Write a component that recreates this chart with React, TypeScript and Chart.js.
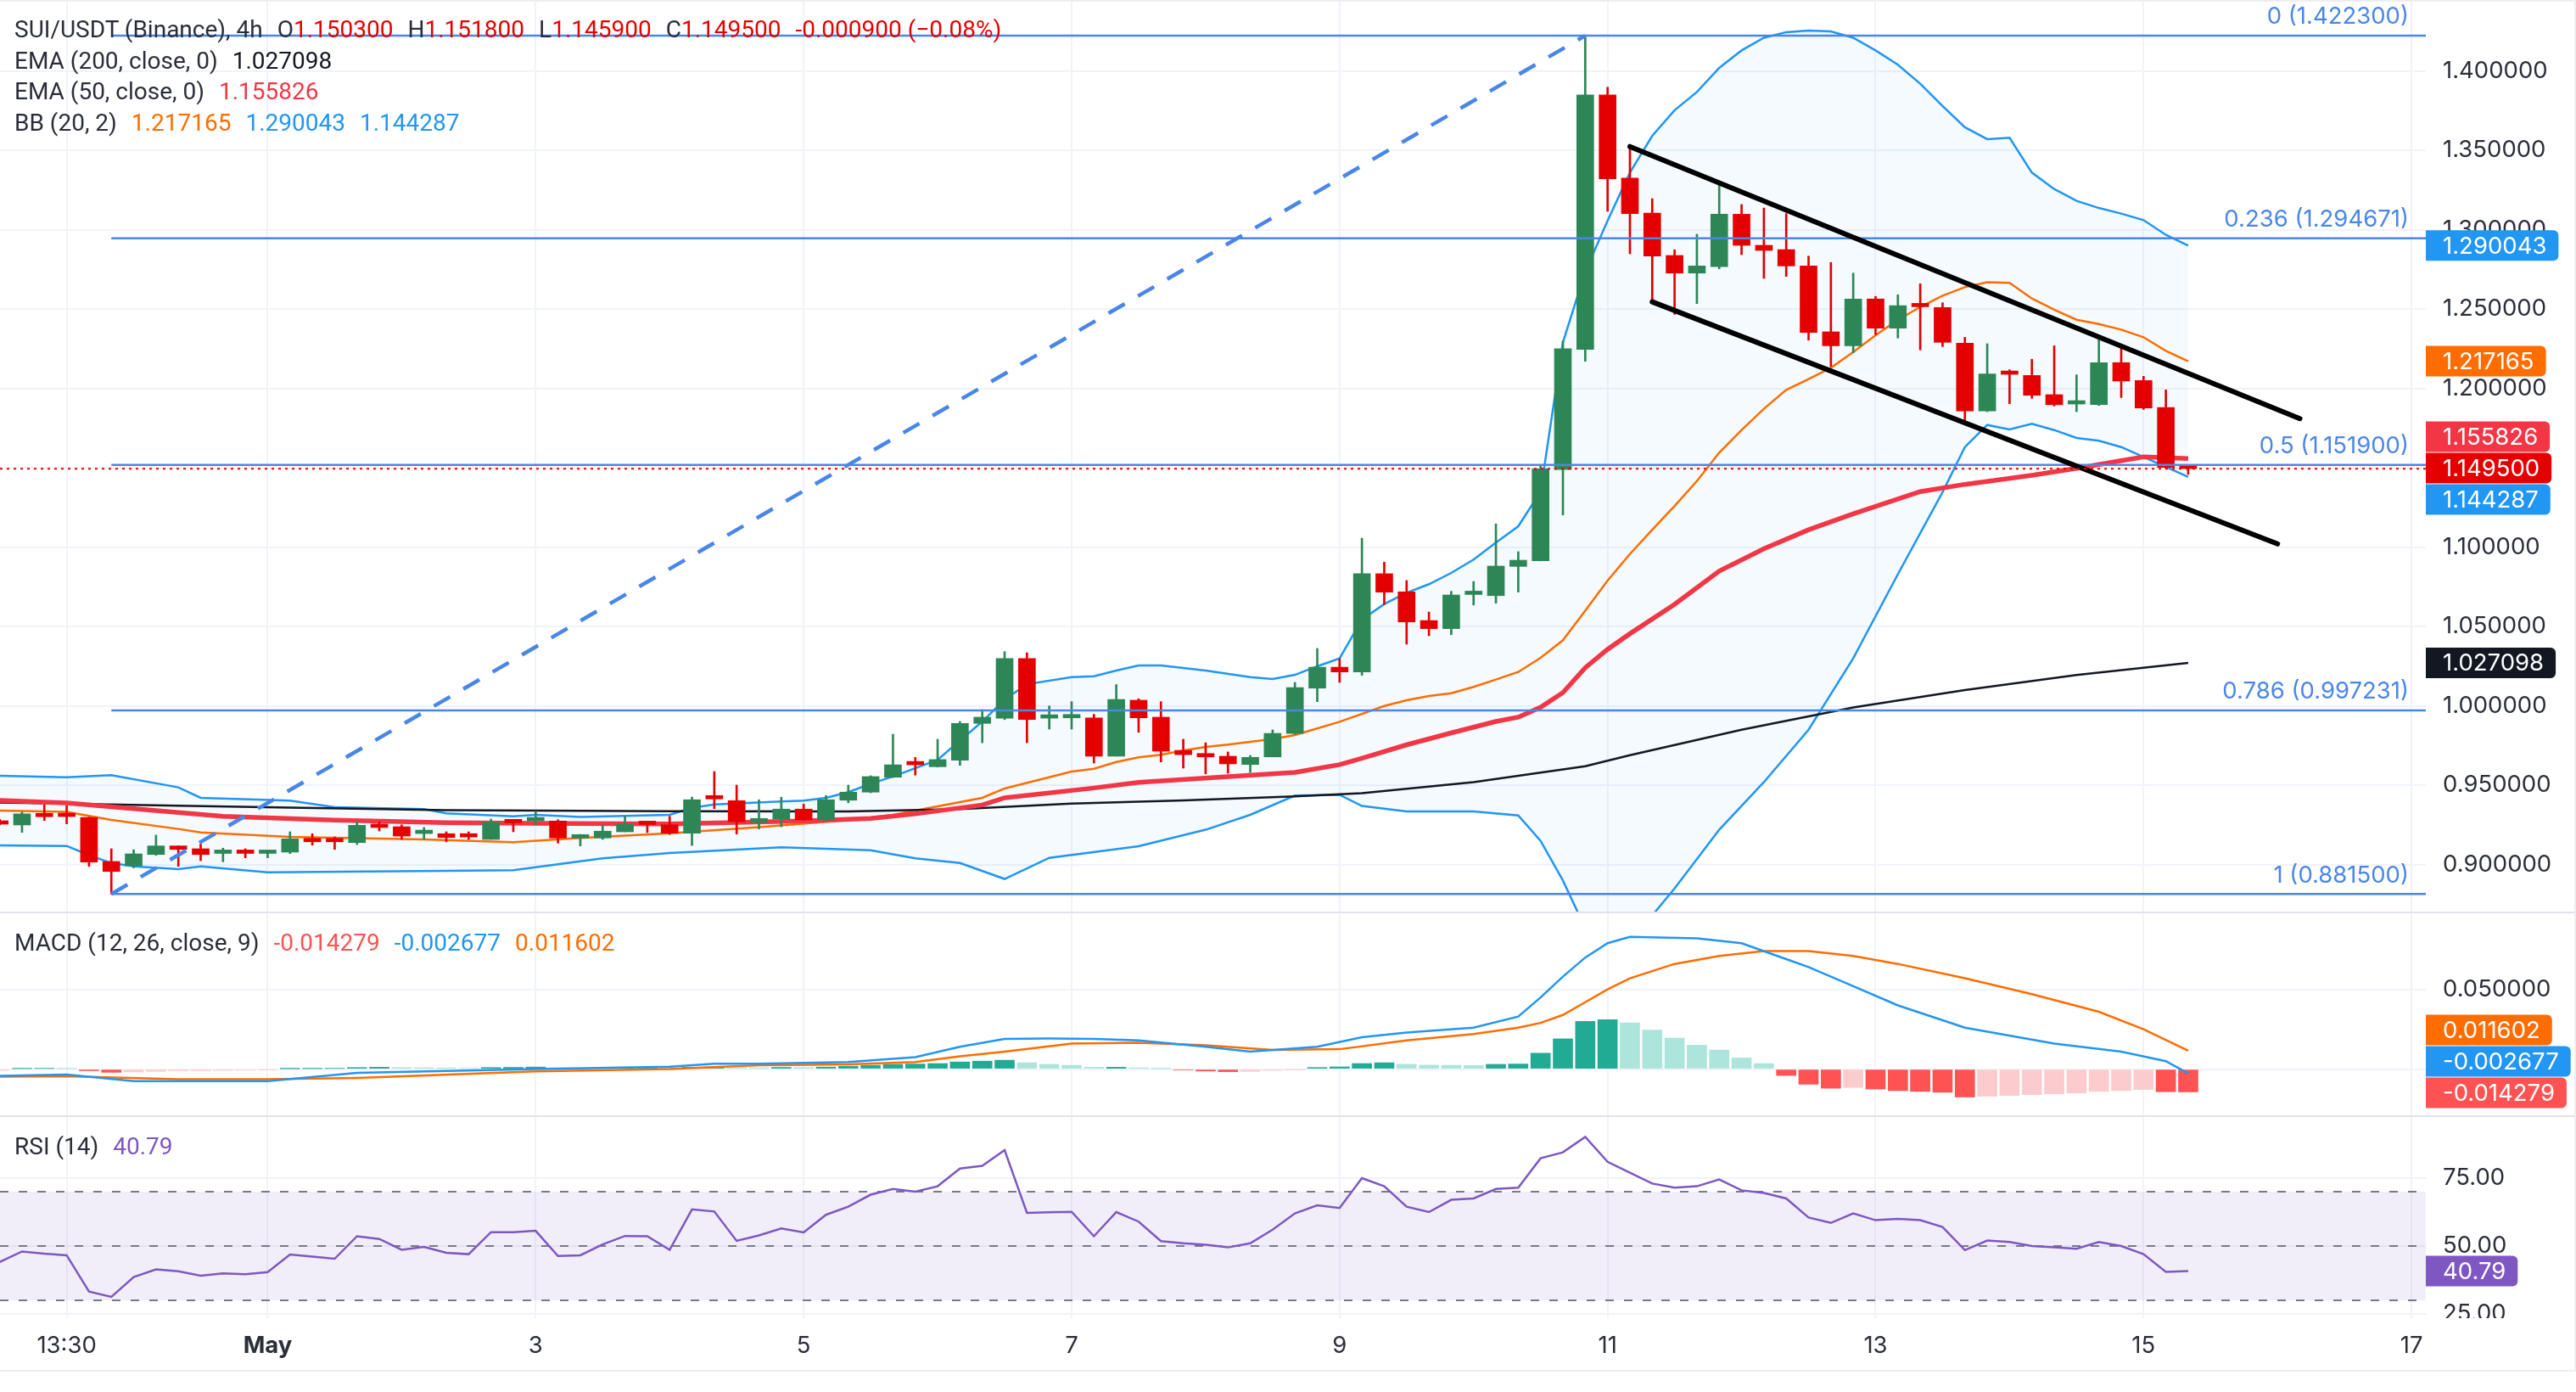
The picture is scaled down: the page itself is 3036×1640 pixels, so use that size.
import React, { useEffect, useRef } from "react";
import { Chart, registerables } from "chart.js";

Chart.register(...registerables);

// ---------------- data ----------------
const FIRST_BAR = -3; // index of first candle (bar 0 = "13:30")

const opens = [
  0.9270, 0.9250, 0.9320, 0.9307, 0.9298, 0.9020, 0.8993, 0.9064, 0.9118, 0.9100,
  0.9071, 0.9075, 0.9071, 0.9079, 0.9166, 0.9153, 0.9139, 0.9251, 0.9239, 0.9196,
  0.9195, 0.9178, 0.9159, 0.9268, 0.9276, 0.9275, 0.9168, 0.9168, 0.9207, 0.9257,
  0.9251, 0.9198, 0.9418, 0.9403, 0.9266, 0.9287, 0.9350, 0.9282, 0.9406, 0.9457,
  0.9551, 0.9633, 0.9617, 0.9658, 0.9890, 0.9923, 1.0299, 0.9923, 0.9925, 0.9925,
  0.9684, 1.0036, 0.9929, 0.9720, 0.9699, 0.9683, 0.9631, 0.9679, 0.9827, 1.0112,
  1.0244, 1.0214, 1.0833, 1.0719, 1.0538, 1.0487, 1.0702, 1.0695, 1.0879, 1.0914,
  1.1489, 1.2246, 1.3850, 1.3325, 1.3105, 1.2838, 1.2727, 1.2768, 1.3098, 1.2902,
  1.2875, 1.2772, 1.2357, 1.2269, 1.2564, 1.2380, 1.2522, 1.2510, 1.2286, 1.1858,
  1.2093, 1.2082, 1.1961, 1.1902, 1.1898, 1.2163, 1.2050, 1.1881, 1.1503,
];
const highs = [
  0.9285, 0.9332, 0.9376, 0.9371, 0.9300, 0.9100, 0.9094, 0.9186, 0.9118, 0.9130,
  0.9104, 0.9100, 0.9086, 0.9207, 0.9195, 0.9175, 0.9275, 0.9270, 0.9251, 0.9234,
  0.9207, 0.9207, 0.9287, 0.9282, 0.9337, 0.9283, 0.9190, 0.9248, 0.9305, 0.9270,
  0.9305, 0.9426, 0.9587, 0.9501, 0.9409, 0.9425, 0.9382, 0.9435, 0.9501, 0.9560,
  0.9822, 0.9676, 0.9790, 0.9902, 0.9977, 1.0342, 1.0335, 1.0000, 1.0027, 0.9947,
  1.0134, 1.0045, 1.0027, 0.9790, 0.9768, 0.9710, 0.9688, 0.9849, 1.0148, 1.0362,
  1.0298, 1.1057, 1.0906, 1.0790, 1.0592, 1.0722, 1.0784, 1.1147, 1.0972, 1.1512,
  1.2300, 1.4223, 1.3898, 1.3521, 1.3196, 1.2874, 1.2972, 1.3285, 1.3159, 1.3137,
  1.3102, 1.2834, 1.2794, 1.2727, 1.2580, 1.2590, 1.2660, 1.2540, 1.2323, 1.2282,
  1.2118, 1.2184, 1.2269, 1.2086, 1.2309, 1.2255, 1.2077, 1.1991, 1.1518,
];
const lows = [
  0.9250, 0.9203, 0.9278, 0.9257, 0.8989, 0.8815, 0.8980, 0.9059, 0.8989, 0.9025,
  0.9018, 0.9043, 0.9043, 0.9070, 0.9123, 0.9096, 0.9127, 0.9212, 0.9159, 0.9159,
  0.9144, 0.9159, 0.9159, 0.9207, 0.9251, 0.9136, 0.9118, 0.9159, 0.9207, 0.9202,
  0.9190, 0.9121, 0.9353, 0.9193, 0.9225, 0.9239, 0.9278, 0.9275, 0.9390, 0.9453,
  0.9549, 0.9564, 0.9615, 0.9626, 0.9768, 0.9914, 0.9768, 0.9854, 0.9854, 0.9640,
  0.9684, 0.9834, 0.9647, 0.9608, 0.9572, 0.9576, 0.9581, 0.9679, 0.9822, 1.0027,
  1.0148, 1.0193, 1.0638, 1.0389, 1.0442, 1.0449, 1.0636, 1.0647, 1.0717, 1.0914,
  1.1203, 1.2171, 1.3116, 1.2849, 1.2545, 1.2467, 1.2535, 1.2754, 1.2843, 1.2694,
  1.2706, 1.2305, 1.2139, 1.2225, 1.2339, 1.2318, 1.2243, 1.2264, 1.1778, 1.1854,
  1.1904, 1.1938, 1.1890, 1.1854, 1.1893, 1.1943, 1.1868, 1.1497, 1.1459,
];
const closes = [
  0.9255, 0.9320, 0.9302, 0.9303, 0.9016, 0.8957, 0.9068, 0.9118, 0.9096, 0.9064,
  0.9076, 0.9071, 0.9075, 0.9163, 0.9144, 0.9144, 0.9248, 0.9234, 0.9180, 0.9200,
  0.9171, 0.9174, 0.9266, 0.9264, 0.9280, 0.9168, 0.9172, 0.9211, 0.9255, 0.9253,
  0.9198, 0.9409, 0.9414, 0.9270, 0.9291, 0.9350, 0.9282, 0.9409, 0.9457, 0.9555,
  0.9629, 0.9629, 0.9662, 0.9890, 0.9929, 1.0299, 0.9914, 0.9927, 0.9929, 0.9684,
  1.0041, 0.9925, 0.9715, 0.9693, 0.9679, 0.9635, 0.9676, 0.9827, 1.0116, 1.0244,
  1.0214, 1.0833, 1.0717, 1.0529, 1.0487, 1.0699, 1.0706, 1.0881, 1.0918, 1.1494,
  1.2250, 1.3850, 1.3321, 1.3102, 1.2834, 1.2727, 1.2772, 1.3098, 1.2902, 1.2870,
  1.2772, 1.2353, 1.2269, 1.2564, 1.2380, 1.2522, 1.2515, 1.2291, 1.1858, 1.2091,
  1.2089, 1.1957, 1.1898, 1.1906, 1.2163, 1.2047, 1.1877, 1.1503, 1.1495,
];

// indicator lines: [bar index, value]
const ema200Pts: [number, number][] = [
  [-3, 0.9392], [5, 0.9371], [10, 0.936], [17, 0.9344], [27, 0.9337], [35, 0.9335], [40, 0.935],
  [45, 0.9385], [50, 0.9405], [55, 0.943], [58, 0.945], [63, 0.952], [66, 0.958], [68, 0.962],
  [70, 0.969], [75, 0.985], [80, 0.999], [85, 1.01], [90, 1.0195], [95, 1.027098],
];
const ema50Pts: [number, number][] = [
  [-3, 0.9405], [0, 0.9389], [7, 0.9305], [12, 0.928], [17, 0.9264], [21, 0.926], [27, 0.9257],
  [33, 0.9275], [36, 0.9291], [38, 0.932], [41, 0.9376], [42, 0.9421], [46, 0.9483], [48, 0.9519],
  [55, 0.9581], [57, 0.963], [58, 0.967], [60, 0.9755], [62, 0.983], [64, 0.9902], [65, 0.9929],
  [66, 0.9991], [67, 1.0084], [68, 1.0241], [69, 1.0357], [70, 1.0455], [72, 1.064], [74, 1.085],
  [76, 1.099], [78, 1.111], [80, 1.121], [83, 1.135], [85, 1.1396], [88, 1.1453], [90, 1.1497],
  [93, 1.1569], [95, 1.155826],
];
const bbUpperPts: [number, number][] = [
  [-3, 0.956], [0, 0.9551], [2, 0.9564], [5, 0.9487], [6, 0.9421], [10, 0.9403], [12, 0.9362],
  [16, 0.935], [17, 0.9323], [20, 0.9305], [21, 0.9314], [23, 0.93], [27, 0.9314], [28, 0.9358],
  [29, 0.938], [32, 0.9398], [33, 0.9403], [34, 0.9421], [35, 0.9457], [36, 0.951], [37, 0.9555],
  [39, 0.9661], [41, 0.9902], [42, 1.004], [43, 1.0137], [45, 1.0182], [46, 1.0187], [47, 1.0223],
  [48, 1.0255], [49, 1.0255], [51, 1.0223], [53, 1.0182], [54, 1.017], [55, 1.0196], [56, 1.025],
  [57, 1.03], [58, 1.0544], [59, 1.0642], [60, 1.0713], [61, 1.0767], [62, 1.0838], [63, 1.0922],
  [64, 1.1029], [65, 1.1132], [66, 1.135], [67, 1.2291], [68, 1.2736], [69, 1.3057], [70, 1.336],
  [71, 1.3592], [72, 1.3753], [73, 1.3868], [74, 1.402], [75, 1.413], [76, 1.421], [77, 1.4245],
  [78, 1.4255], [79, 1.425], [80, 1.421], [81, 1.413], [82, 1.404], [83, 1.392], [84, 1.378],
  [85, 1.3646], [86, 1.3571], [87, 1.358], [88, 1.336], [89, 1.3257], [90, 1.3182], [91, 1.3137],
  [92, 1.3102], [93, 1.3061], [94, 1.2968], [95, 1.290043],
];
const bbMidPts: [number, number][] = [
  [-3, 0.9341], [0, 0.9332], [2, 0.9282], [5, 0.9225], [6, 0.9203], [10, 0.9175], [16, 0.9159],
  [20, 0.9141], [23, 0.9168], [27, 0.9198], [31, 0.9237], [35, 0.928], [37, 0.9314], [41, 0.9421],
  [42, 0.948], [45, 0.9587], [46, 0.9604], [47, 0.9647], [48, 0.9676], [49, 0.9692], [50, 0.9719],
  [51, 0.9742], [52, 0.9756], [53, 0.9774], [54, 0.9791], [55, 0.9817], [57, 0.99], [59, 1.0],
  [60, 1.0036], [61, 1.0063], [62, 1.008], [63, 1.012], [64, 1.0166], [65, 1.0214], [66, 1.0303],
  [67, 1.0414], [68, 1.06], [69, 1.079], [70, 1.0957], [71, 1.111], [72, 1.126], [73, 1.1417],
  [74, 1.1596], [75, 1.1738], [76, 1.1872], [77, 1.1991], [78, 1.2059], [79, 1.213], [80, 1.223],
  [81, 1.2335], [82, 1.2433], [83, 1.2513], [84, 1.2585], [85, 1.2638], [86, 1.267], [87, 1.2665],
  [88, 1.2567], [89, 1.2496], [90, 1.2433], [91, 1.2406], [92, 1.2371], [93, 1.2323], [94, 1.2237],
  [95, 1.217165],
];
const bbLowerPts: [number, number][] = [
  [-3, 0.9121], [0, 0.9118], [1, 0.906], [2, 0.901], [3, 0.8989], [5, 0.8972], [6, 0.8989],
  [9, 0.8952], [17, 0.8961], [20, 0.8965], [24, 0.904], [27, 0.9073], [32, 0.9109], [36, 0.9091],
  [38, 0.904], [40, 0.901], [42, 0.891], [44, 0.9043], [48, 0.9116], [51, 0.922], [53, 0.9314],
  [55, 0.9435], [57, 0.944], [58, 0.937], [60, 0.9335], [63, 0.9335], [65, 0.931], [66, 0.915],
  [67, 0.89], [68, 0.86], [69, 0.852], [70, 0.855], [71, 0.868], [72, 0.885], [74, 0.922],
  [76, 0.952], [78, 0.985], [80, 1.03], [82, 1.083], [84, 1.1347], [85, 1.1631], [86, 1.177],
  [87, 1.1742], [88, 1.1778], [89, 1.1738], [90, 1.1688], [91, 1.1671], [92, 1.1631], [93, 1.1569],
  [94, 1.1506], [95, 1.144287],
];

const fibLevels = ["0", "0.236", "0.5", "0.786", "1"];
const fibPrices = [1.4223, 1.294671, 1.1519, 0.997231, 0.8815];
const fibStartBar = 2;
const trendLine: [number, number][] = [[2, 0.8815], [68, 1.4223]];
const channelUpper: [number, number][] = [[70, 1.3524], [100, 1.181]];
const channelLower: [number, number][] = [[71, 1.2546], [99, 1.1021]];

const macdHist = [
  -0.0008, 0.0003, 0.0004, 0.0003, -0.001, -0.002, -0.0018, -0.0014, -0.001, -0.001,
  -0.0008, -0.0007, -0.0004, 0.0002, 0.0003, 0.0004, 0.001, 0.0012, 0.001, 0.0009,
  0.0008, 0.0006, 0.001, 0.0011, 0.0013, 0.0008, 0.0006, 0.0005, 0.0006, 0.0007,
  0.0006, 0.0012, 0.0014, 0.001, 0.0009, 0.0011, 0.001, 0.0013, 0.0018, 0.0024,
  0.003, 0.0032, 0.0035, 0.0045, 0.005, 0.0056, 0.004, 0.003, 0.0024, 0.0012,
  0.0012, 0.0008, 0.0002, -0.0006, -0.0012, -0.0016, -0.0014, -0.0008, -0.0003, 0.001,
  0.0014, 0.0035, 0.004, 0.003, 0.0025, 0.0024, 0.0023, 0.003, 0.0032, 0.01,
  0.019, 0.03, 0.031, 0.029, 0.0245, 0.0195, 0.015, 0.012, 0.007, 0.0035,
  -0.004, -0.0095, -0.012, -0.0115, -0.0125, -0.0135, -0.014, -0.0145, -0.0175, -0.017,
  -0.0165, -0.016, -0.0155, -0.015, -0.014, -0.0135, -0.0128, -0.0142, -0.014279,
];
const macdPts: [number, number][] = [
  [-3, -0.0042], [0, -0.0034], [3, -0.0075], [9, -0.0075], [13, -0.0023], [17, -0.0012], [21, 0],
  [27, 0.0015], [29, 0.0034], [31, 0.0034], [35, 0.0045], [38, 0.0075], [40, 0.014], [42, 0.019],
  [44, 0.0192], [46, 0.019], [48, 0.018], [51, 0.014], [53, 0.011], [56, 0.014], [58, 0.02],
  [60, 0.023], [63, 0.026], [65, 0.033], [66, 0.045], [67, 0.058], [68, 0.07], [69, 0.079],
  [70, 0.083], [73, 0.082], [75, 0.079], [77, 0.069], [78, 0.064], [80, 0.052], [82, 0.04],
  [85, 0.026], [89, 0.016], [92, 0.011], [94, 0.005], [95, -0.002677],
];
const signalPts: [number, number][] = [
  [-3, -0.0047], [0, -0.0045], [5, -0.0064], [9, -0.0064], [13, -0.0055], [21, -0.0014], [27, 0],
  [31, 0.0024], [35, 0.003], [38, 0.0045], [40, 0.008], [42, 0.011], [45, 0.016], [48, 0.0165],
  [51, 0.015], [54, 0.012], [57, 0.0125], [60, 0.018], [63, 0.022], [65, 0.026], [66, 0.029],
  [67, 0.034], [68, 0.042], [69, 0.05], [70, 0.057], [72, 0.066], [74, 0.071], [76, 0.074],
  [78, 0.074], [80, 0.071], [82, 0.066], [85, 0.057], [88, 0.047], [91, 0.036], [93, 0.025],
  [95, 0.011602],
];

const rsiValues = [
  44.1, 48.0, 47.2, 46.6, 33.2, 31.3, 38.6, 41.4, 40.7, 39.1,
  39.9, 39.6, 40.4, 46.9, 46.1, 45.3, 53.6, 52.6, 48.6, 49.7,
  47.5, 47.0, 55.1, 55.1, 55.6, 46.3, 46.6, 50.6, 53.7, 53.6,
  48.6, 63.5, 62.7, 51.9, 53.9, 56.5, 55.0, 61.5, 64.5, 68.9,
  71.0, 70.0, 72.0, 78.5, 79.5, 85.3, 62.2, 62.4, 62.6, 53.6,
  62.5, 59.0, 51.8, 51.0, 50.5, 49.5, 51.0, 56.0, 62.0, 65.0,
  64.0, 75.0, 72.0, 64.5, 62.5, 67.0, 67.5, 71.0, 71.5, 82.3,
  84.5, 90.2, 81.0, 77.0, 73.0, 71.5, 72.0, 74.5, 70.5, 69.5,
  67.5, 60.5, 58.5, 62.0, 59.5, 60.0, 59.5, 57.0, 48.5, 52.0,
  51.5, 50.0, 49.5, 49.0, 51.5, 50.0, 47.0, 40.5, 40.79,
];

const xTickBars = [0, 9, 21, 33, 45, 57, 69, 81, 93, 105];
const xTickLabels = ["13:30", "May", "3", "5", "7", "9", "11", "13", "15", "17"];
const priceTicks = [0.9, 0.95, 1.0, 1.05, 1.1, 1.15, 1.2, 1.25, 1.3, 1.35, 1.4];
const macdTicks = [0, 0.05];
const rsiTicks = [25, 50, 75];
const rsiBands = [70, 50, 30];

const lastEma200 = 1.027098;
const lastEma50 = 1.155826;
const lastBB = [1.217165, 1.290043, 1.144287];
const lastMacd = [-0.014279, -0.002677, 0.011602];
const lastRsi = 40.79;

// ---------------- layout / style ----------------
const W = 3036;
const AXIS_W = 177;
const X_MIN = -2.986;
const X_MAX = 105.64;
const MAIN_H = 1074;
const MACD_TOP = 1076;
const MACD_H = 238;
const RSI_TOP = 1316;
const RSI_H = 298;

const FONT_AXIS = "Inter, Roboto, sans-serif";
const FONT_LEGEND = "Roboto, sans-serif";
const AXIS_SIZE = 27.5;
const TEXT = "#2a2e39";
const GRID = "#f0f3fa";
const GREEN = "#2d8656";
const RED = "#e50000";
const FIB = "#4a86e8";
const BLUE = "#2196f3";
const ORANGE = "#ff6d00";
const EMA50C = "#f23645";
const BLACK = "#131722";
const PURPLE = "#7e57c2";

const barX = opens.map((_, k) => FIRST_BAR + k);

type Tag = { value: number; text: string; color: string };

function tagPlugin(tags: Tag[], bottomPad: number) {
  const h = 37;
  return {
    id: "tags",
    afterDraw(chart: any) {
      const { ctx, chartArea } = chart;
      const ys = chart.scales.y;
      ctx.save();
      ctx.font = `${AXIS_SIZE}px ${FONT_AXIS}`;
      const items = tags
        .map((t) => ({ ...t, py: ys.getPixelForValue(t.value) }))
        .sort((a, b) => a.py - b.py);
      const groups: { items: typeof items; center: number }[] = items.map((it) => ({ items: [it], center: it.py }));
      let changed = true;
      while (changed) {
        changed = false;
        for (let k = 0; k < groups.length - 1; k++) {
          const a = groups[k];
          const b = groups[k + 1];
          if (a.center + (a.items.length * h) / 2 > b.center - (b.items.length * h) / 2) {
            const its = [...a.items, ...b.items];
            const center = its.reduce((s, v) => s + v.py, 0) / its.length;
            groups.splice(k, 2, { items: its, center });
            changed = true;
            break;
          }
        }
      }
      for (const g of groups) {
        let top = g.center - (g.items.length * h) / 2;
        const bottom = top + g.items.length * h;
        const limit = chartArea.bottom - bottomPad;
        if (bottom > limit) top -= bottom - limit;
        if (top < chartArea.top) top = chartArea.top;
        g.items.forEach((it, k) => {
          const y0 = top + k * h;
          const x0 = chartArea.right;
          const tw = ctx.measureText(it.text).width;
          ctx.fillStyle = it.color;
          ctx.beginPath();
          ctx.roundRect(x0, y0 + 0.5, 20 + tw + 14, h - 1, [0, 6, 6, 0]);
          ctx.fill();
          ctx.fillStyle = "#ffffff";
          ctx.textAlign = "left";
          ctx.textBaseline = "middle";
          ctx.fillText(it.text, x0 + 20, y0 + h / 2 + 1);
        });
      }
      ctx.restore();
    },
  };
}

const fibLabelPlugin = {
  id: "fibLabels",
  afterDatasetsDraw(chart: any) {
    const { ctx, chartArea } = chart;
    const ys = chart.scales.y;
    ctx.save();
    ctx.font = `${AXIS_SIZE}px ${FONT_AXIS}`;
    ctx.fillStyle = FIB;
    ctx.textAlign = "right";
    ctx.textBaseline = "middle";
    fibPrices.forEach((p, k) => {
      ctx.fillText(`${fibLevels[k]} (${p.toFixed(6)})`, chartArea.right - 20, ys.getPixelForValue(p) - 22);
    });
    ctx.restore();
  },
};

// hides the part of the price-scale labels that falls below the pane (as in the reference)
const clipAxisPlugin = {
  id: "clipAxis",
  afterDraw(chart: any) {
    const { ctx, chartArea, width, height } = chart;
    ctx.save();
    ctx.fillStyle = "#ffffff";
    ctx.fillRect(chartArea.right, chartArea.bottom, width - chartArea.right - 2, height - chartArea.bottom);
    ctx.restore();
  },
};

function zeroPad(s: any) {
  s.paddingLeft = 0;
  s.paddingRight = 0;
  s.paddingTop = 0;
  s.paddingBottom = 0;
}

function xScale(showTicks: boolean) {
  return {
    type: "linear",
    min: X_MIN,
    max: X_MAX,
    offset: false,
    grid: { color: GRID, lineWidth: 2, drawTicks: false, offset: false },
    border: { display: false },
    afterBuildTicks: (s: any) => {
      s.ticks = xTickBars.map((v) => ({ value: v }));
    },
    ticks: showTicks
      ? {
          display: true,
          autoSkip: false,
          maxRotation: 0,
          padding: 16,
          color: TEXT,
          font: (c: any) => ({
            family: FONT_AXIS,
            size: AXIS_SIZE,
            weight: c.tick && c.tick.value === 9 ? "bold" : "normal",
          }),
          callback: (v: any) => {
            const k = xTickBars.indexOf(Number(v));
            return k >= 0 ? xTickLabels[k] : "";
          },
        }
      : { display: false },
    afterFit: (s: any) => {
      s.height = showTicks ? RSI_H - 237 : 0;
      zeroPad(s);
    },
  };
}

function yScale(min: number, max: number, ticks: number[], digits: number) {
  return {
    type: "linear",
    position: "right",
    min,
    max,
    grid: { color: GRID, lineWidth: 2, drawTicks: false },
    border: { display: false },
    afterBuildTicks: (s: any) => {
      s.ticks = ticks.map((v) => ({ value: v }));
    },
    ticks: {
      padding: 20,
      color: TEXT,
      font: { family: FONT_AXIS, size: AXIS_SIZE },
      crossAlign: "near",
      callback: (v: any) => Number(v).toFixed(digits),
    },
    afterFit: (s: any) => {
      s.width = AXIS_W;
      zeroPad(s);
    },
  };
}

function line(pts: [number, number][], color: string, width: number, order: number, extra: any = {}) {
  return {
    type: "line",
    data: pts.map(([x, y]) => ({ x, y })),
    borderColor: color,
    borderWidth: width,
    pointRadius: 0,
    tension: 0,
    fill: false,
    order,
    ...extra,
  };
}

const baseOptions = {
  responsive: false,
  animation: false,
  events: [],
  devicePixelRatio: 1,
  layout: { padding: 0 },
  plugins: { legend: { display: false }, tooltip: { enabled: false } },
};

function mainConfig(): any {
  const candleColors = opens.map((o, k) => (closes[k] >= o ? GREEN : RED));
  const last = closes[closes.length - 1];
  const datasets: any[] = [
    line(bbUpperPts, BLUE, 2.5, 20, { fill: { target: 2 }, backgroundColor: "rgba(33,150,243,0.05)" }),
    line(bbMidPts, ORANGE, 2.5, 19),
    line(bbLowerPts, BLUE, 2.5, 20),
    line(ema200Pts, BLACK, 2.5, 18),
    line(ema50Pts, EMA50C, 5.5, 17),
    {
      type: "bar",
      data: barX.map((x, k) => ({ x, y: [lows[k], highs[k]] })),
      backgroundColor: candleColors,
      barThickness: 2,
      grouped: false,
      order: 6,
    },
    {
      type: "bar",
      data: barX.map((x, k) => ({ x, y: [opens[k], closes[k]] })),
      backgroundColor: candleColors,
      barThickness: 20,
      minBarLength: 4,
      grouped: false,
      order: 5,
    },
    ...fibPrices.map((p) => line([[fibStartBar, p], [X_MAX, p]], FIB, 2.5, 4)),
    line(trendLine, FIB, 4.5, 3, { borderDash: [22, 18] }),
    line(channelUpper, "#000000", 6, 2, { borderCapStyle: "round" }),
    line(channelLower, "#000000", 6, 2, { borderCapStyle: "round" }),
    line([[X_MIN, last], [X_MAX, last]], RED, 2, 1, { borderDash: [3, 5] }),
  ];
  const tags: Tag[] = [
    { value: lastBB[1], text: lastBB[1].toFixed(6), color: BLUE },
    { value: lastBB[0], text: lastBB[0].toFixed(6), color: ORANGE },
    { value: lastEma50, text: lastEma50.toFixed(6), color: EMA50C },
    { value: last, text: last.toFixed(6), color: RED },
    { value: lastBB[2], text: lastBB[2].toFixed(6), color: BLUE },
    { value: lastEma200, text: lastEma200.toFixed(6), color: BLACK },
  ];
  return {
    type: "bar",
    data: { datasets },
    options: {
      ...baseOptions,
      scales: {
        x: xScale(false),
        y: yScale(0.87043, 1.44476, priceTicks, 6),
      },
    },
    plugins: [fibLabelPlugin, tagPlugin(tags, 4)],
  };
}

function macdConfig(): any {
  const colors = macdHist.map((v, k) => {
    const prev = k > 0 ? macdHist[k - 1] : v;
    if (v >= 0) return v >= prev ? "#22ab94" : "#ace5dc";
    return v < prev ? "#ff5252" : "#fccbcd";
  });
  const datasets: any[] = [
    {
      type: "bar",
      data: barX.map((x, k) => ({ x, y: macdHist[k] })),
      backgroundColor: colors,
      barThickness: 23,
      grouped: false,
      order: 3,
    },
    line(signalPts, ORANGE, 2.5, 2),
    line(macdPts, BLUE, 2.5, 1),
  ];
  const tags: Tag[] = [
    { value: lastMacd[2], text: lastMacd[2].toFixed(6), color: ORANGE },
    { value: lastMacd[1], text: lastMacd[1].toFixed(6), color: BLUE },
    { value: lastMacd[0], text: lastMacd[0].toFixed(6), color: "#ff5252" },
  ];
  return {
    type: "bar",
    data: { datasets },
    options: {
      ...baseOptions,
      scales: { x: xScale(false), y: yScale(-0.02897, 0.09776, macdTicks, 6) },
    },
    plugins: [tagPlugin(tags, 8)],
  };
}

function rsiConfig(): any {
  const dash = { borderDash: [10, 12] };
  const datasets: any[] = [
    line([[X_MIN, rsiBands[0]], [X_MAX, rsiBands[0]]], "#787b86", 2, 5, dash),
    line([[X_MIN, rsiBands[2]], [X_MAX, rsiBands[2]]], "#787b86", 2, 5, {
      ...dash,
      fill: { target: 0 },
      backgroundColor: "rgba(126,87,194,0.1)",
    }),
    line([[X_MIN, rsiBands[1]], [X_MAX, rsiBands[1]]], "#787b86", 2, 4, dash),
    line(barX.map((x, k) => [x, rsiValues[k]] as [number, number]), PURPLE, 2.5, 1),
  ];
  const tags: Tag[] = [{ value: lastRsi, text: lastRsi.toFixed(2), color: PURPLE }];
  return {
    type: "line",
    data: { datasets },
    options: {
      ...baseOptions,
      scales: { x: xScale(true), y: yScale(23.44, 97.5, rsiTicks, 2) },
    },
    plugins: [clipAxisPlugin, tagPlugin(tags, 2)],
  };
}

const legendBase: React.CSSProperties = {
  position: "absolute",
  left: 17,
  height: 34,
  lineHeight: "34px",
  fontSize: 28,
  fontFamily: FONT_LEGEND,
  color: TEXT,
  whiteSpace: "pre",
};

function V({ c, children, ml = 17 }: { c: string; children: React.ReactNode; ml?: number }) {
  return <span style={{ color: c, marginLeft: ml }}>{children}</span>;
}

export default function App() {
  const mainRef = useRef<HTMLCanvasElement>(null);
  const macdRef = useRef<HTMLCanvasElement>(null);
  const rsiRef = useRef<HTMLCanvasElement>(null);

  useEffect(() => {
    document.body.style.margin = "0";
    const charts = [
      new Chart(mainRef.current as HTMLCanvasElement, mainConfig()),
      new Chart(macdRef.current as HTMLCanvasElement, macdConfig()),
      new Chart(rsiRef.current as HTMLCanvasElement, rsiConfig()),
    ];
    return () => charts.forEach((c) => c.destroy());
  }, []);

  const n = closes.length - 1;
  return (
    <div style={{ position: "relative", width: W, height: 1640, background: "#ffffff", overflow: "hidden" }}>
      <canvas ref={mainRef} width={W} height={MAIN_H} style={{ position: "absolute", left: 0, top: 0 }} />
      <div style={{ position: "absolute", left: 0, top: 0, width: W, height: 2, background: "#eceef2" }} />
      <div style={{ position: "absolute", left: 0, top: MAIN_H, width: W, height: 2, background: "#e0e3eb" }} />
      <canvas ref={macdRef} width={W} height={MACD_H} style={{ position: "absolute", left: 0, top: MACD_TOP }} />
      <div style={{ position: "absolute", left: 0, top: MACD_TOP + MACD_H, width: W, height: 2, background: "#e0e3eb" }} />
      <canvas ref={rsiRef} width={W} height={RSI_H} style={{ position: "absolute", left: 0, top: RSI_TOP }} />
      <div style={{ position: "absolute", left: 0, top: RSI_TOP + RSI_H, width: W, height: 2, background: "#eceef2" }} />
      <div style={{ position: "absolute", left: W - 2, top: 0, width: 2, height: RSI_TOP + RSI_H, background: "#eceef2" }} />

      <div style={{ ...legendBase, top: 35 - 17 }}>
        SUI/USDT (Binance), 4h
        <V c={TEXT}>O</V><span style={{ color: RED }}>{opens[n].toFixed(6)}</span>
        <V c={TEXT}>H</V><span style={{ color: RED }}>{highs[n].toFixed(6)}</span>
        <V c={TEXT}>L</V><span style={{ color: RED }}>{lows[n].toFixed(6)}</span>
        <V c={TEXT}>C</V><span style={{ color: RED }}>{closes[n].toFixed(6)}</span>
        <V c={RED}>-0.000900 (−0.08%)</V>
      </div>
      <div style={{ ...legendBase, top: 72 - 17 }}>
        EMA (200, close, 0)<V c={BLACK}>{lastEma200.toFixed(6)}</V>
      </div>
      <div style={{ ...legendBase, top: 108 - 17 }}>
        EMA (50, close, 0)<V c={EMA50C}>{lastEma50.toFixed(6)}</V>
      </div>
      <div style={{ ...legendBase, top: 145 - 17 }}>
        BB (20, 2)<V c={ORANGE}>{lastBB[0].toFixed(6)}</V>
        <V c={BLUE}>{lastBB[1].toFixed(6)}</V>
        <V c={BLUE}>{lastBB[2].toFixed(6)}</V>
      </div>
      <div style={{ ...legendBase, top: 1111 - 17 }}>
        MACD (12, 26, close, 9)<V c="#ff5252">{lastMacd[0].toFixed(6)}</V>
        <V c={BLUE}>{lastMacd[1].toFixed(6)}</V>
        <V c={ORANGE}>{lastMacd[2].toFixed(6)}</V>
      </div>
      <div style={{ ...legendBase, top: 1351 - 17 }}>
        RSI (14)<V c={PURPLE}>{lastRsi.toFixed(2)}</V>
      </div>
    </div>
  );
}
